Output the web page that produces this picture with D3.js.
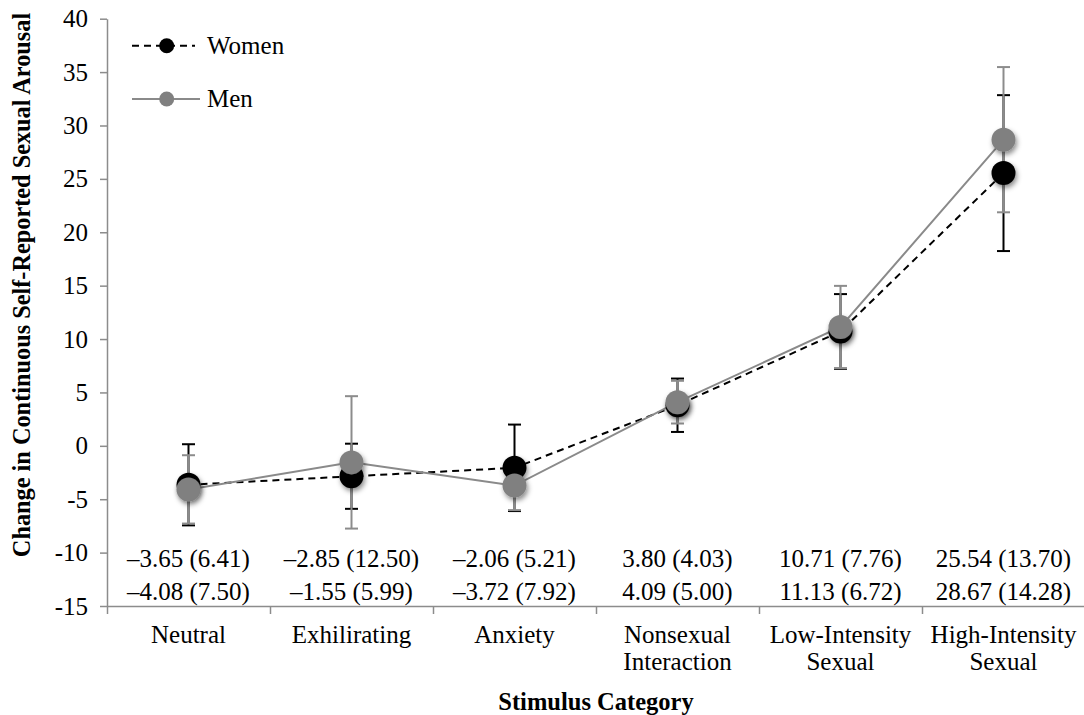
<!DOCTYPE html>
<html>
<head>
<meta charset="utf-8">
<script src="https://cdn.jsdelivr.net/npm/d3@7"></script>
<style>
    body { margin: 0; background: #fff; }
    text { font-family: "Liberation Serif", serif; }
</style>
</head>
<body>
<svg id="chart" width="1084" height="715"></svg>
<script>
// data
const categories = [["Neutral"], ["Exhilirating"], ["Anxiety"], ["Nonsexual", "Interaction"],
    ["Low-Intensity", "Sexual"], ["High-Intensity", "Sexual"]];
const womenMeans = [-3.65, -2.85, -2.06, 3.80, 10.71, 25.54];
const womenSD = [6.41, 12.50, 5.21, 4.03, 7.76, 13.70];
const womenErr = [3.8, 3.05, 4.05, 2.5, 3.5, 7.3];
const menMeans = [-4.08, -1.55, -3.72, 4.09, 11.13, 28.67];
const menSD = [7.50, 5.99, 7.92, 5.00, 6.72, 14.28];
const menErr = [3.2, 6.2, 2.3, 2.0, 3.85, 6.8];
const yTicks = [-15, -10, -5, 0, 5, 10, 15, 20, 25, 30, 35, 40];

const series = [
    {name: "Women", means: womenMeans, sd: womenSD, err: womenErr, color: "#000", lineColor: "#000", dash: "7,5"},
    {name: "Men", means: menMeans, sd: menSD, err: menErr, color: "#808080", lineColor: "#8a8a8a", dash: null}
];

const fontSize = "25px";
const svg = d3.select("#chart");

// marker shadow
svg.append("defs").append("filter")
    .attr("id", "shadow")
    .attr("x", "-50%").attr("y", "-50%").attr("width", "200%").attr("height", "200%")
    .append("feDropShadow")
    .attr("dx", 1.5).attr("dy", 3)
    .attr("stdDeviation", 2.5)
    .attr("flood-color", "#000")
    .attr("flood-opacity", 0.45);

// scales
const plot = {left: 107, right: 1085, top: 18.7, bottom: 606};
const x = d3.scaleBand().domain(d3.range(categories.length)).range([plot.left, plot.right]).padding(0);
const xEdge = d3.scaleLinear().domain([0, categories.length]).range([plot.left, plot.right]);
const y = d3.scaleLinear().domain([-15, 40]).range([plot.bottom, plot.top]);
const cx = i => x(i) + x.bandwidth() / 2;

// y axis
const yAxis = svg.append("g")
    .attr("transform", "translate(" + plot.left + ",0)")
    .call(d3.axisLeft(y).tickValues(yTicks).tickSize(7).tickSizeOuter(0).tickPadding(12)
        .tickFormat(d => String(d)));
yAxis.selectAll("path, line").attr("stroke", "#8c8c8c").attr("stroke-width", 1.5);
yAxis.selectAll("text").attr("fill", "#000").style("font-size", fontSize)
    .style("font-family", '"Liberation Serif", serif');

// x axis, ticks sit between categories
const xAxis = svg.append("g")
    .attr("transform", "translate(0," + plot.bottom + ")")
    .call(d3.axisBottom(xEdge).tickValues(d3.range(categories.length + 1)).tickSize(8)
        .tickSizeOuter(0).tickFormat(""));
xAxis.selectAll("path, line").attr("stroke", "#8c8c8c").attr("stroke-width", 1.5);

// category labels
const catLabels = svg.append("g").selectAll("text")
    .data(categories)
    .enter().append("text")
    .attr("text-anchor", "middle")
    .style("font-size", fontSize)
    .attr("y", 643);
catLabels.selectAll("tspan")
    .data((d, i) => d.map(t => ({t: t, i: i})))
    .enter().append("tspan")
    .attr("x", d => cx(d.i))
    .attr("dy", (d, j) => j === 0 ? 0 : 27)
    .text(d => d.t);

// mean (SD) rows under the lines
function fmt(m, s) {
    return (m < 0 ? "\u2013" : "") + Math.abs(m).toFixed(2) + " (" + s.toFixed(2) + ")";
}
series.forEach(function (s, k) {
    svg.append("g").selectAll("text")
        .data(s.means)
        .enter().append("text")
        .attr("x", (d, i) => cx(i))
        .attr("y", k === 0 ? 566.7 : 600)
        .attr("text-anchor", "middle")
        .style("font-size", fontSize)
        .text((d, i) => fmt(d, s.sd[i]));
});

// lines
const line = d3.line().x((d, i) => cx(i)).y(d => y(d));
series.forEach(function (s) {
    svg.append("path")
        .datum(s.means)
        .attr("d", line)
        .attr("fill", "none")
        .attr("stroke", s.lineColor)
        .attr("stroke-width", 2)
        .attr("stroke-dasharray", s.dash);
});

// error bars, drawn behind the markers
series.forEach(function (s) {
    let g = svg.append("g").attr("stroke", s.color === "#000" ? "#000" : "#8c8c8c").attr("stroke-width", 2);
    s.means.forEach(function (m, i) {
        let hi = y(m + s.err[i]), lo = y(m - s.err[i]);
        g.append("line").attr("x1", cx(i)).attr("x2", cx(i)).attr("y1", hi).attr("y2", lo);
        g.append("line").attr("x1", cx(i) - 6.5).attr("x2", cx(i) + 6.5).attr("y1", hi).attr("y2", hi);
        g.append("line").attr("x1", cx(i) - 6.5).attr("x2", cx(i) + 6.5).attr("y1", lo).attr("y2", lo);
    });
});

// markers
series.forEach(function (s) {
    svg.append("g").selectAll("circle")
        .data(s.means)
        .enter().append("circle")
        .attr("cx", (d, i) => cx(i))
        .attr("cy", d => y(d))
        .attr("r", 12)
        .attr("fill", s.color)
        .attr("filter", "url(#shadow)");
});

// legend
const legend = svg.append("g");
series.forEach(function (s, k) {
    let ly = k === 0 ? 45.7 : 99;
    legend.append("line")
        .attr("x1", 132).attr("x2", s.dash ? 195 : 200)
        .attr("y1", ly).attr("y2", ly)
        .attr("stroke", s.lineColor).attr("stroke-width", 2)
        .attr("stroke-dasharray", s.dash);
    legend.append("circle").attr("cx", 166.7).attr("cy", ly).attr("r", 7.5).attr("fill", s.color);
    legend.append("text").attr("x", 207).attr("y", ly + 7.8)
        .style("font-size", fontSize).text(s.name);
});

// axis titles
svg.append("text")
    .attr("transform", "translate(30,285) rotate(-90)")
    .attr("text-anchor", "middle")
    .style("font-weight", "bold")
    .style("font-size", "24.3px")
    .text("Change in Continuous Self-Reported Sexual Arousal");

svg.append("text")
    .attr("x", (plot.left + plot.right) / 2).attr("y", 710)
    .attr("text-anchor", "middle")
    .style("font-weight", "bold")
    .style("font-size", "24.5px")
    .text("Stimulus Category");
</script>
</body>
</html>
